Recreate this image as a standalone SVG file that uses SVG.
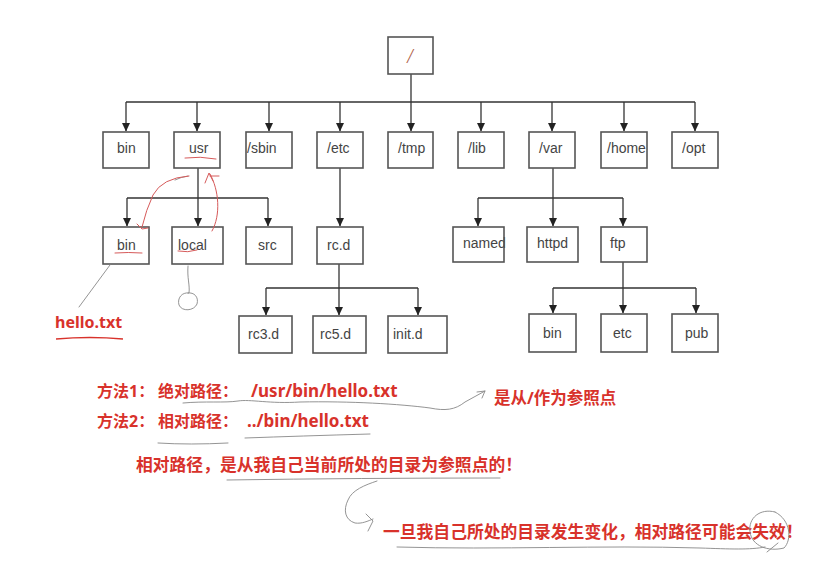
<svg xmlns="http://www.w3.org/2000/svg" width="840" height="561" viewBox="0 0 840 561">
<style>
.box{fill:#fff;stroke:#555;stroke-width:1.6}
.lbl{font-family:"Liberation Sans",Arial,sans-serif;font-size:14px;fill:#444}
.con{fill:none;stroke:#333;stroke-width:1.3}
.red{font-family:"Noto Sans","Noto Sans CJK SC",sans-serif;font-weight:bold;fill:#d8322b}
.pen{fill:none;stroke:#888;stroke-width:0.9;stroke-linecap:round}
.rpen{fill:none;stroke:#d65a5a;stroke-width:1;stroke-linecap:round}
</style>
<defs>
<marker id="ah" markerUnits="userSpaceOnUse" markerWidth="9" markerHeight="9" refX="8" refY="4.5" orient="auto">
<path d="M0,0.5 L8.5,4.5 L0,8.5 z" fill="#222"/>
</marker>
</defs>
<rect width="840" height="561" fill="#fff"/>
<g id="connectors" class="con">
<path d="M411,74 V131" marker-end="url(#ah)"/>
<path d="M126,102 H695"/>
<path d="M126,102 V131" marker-end="url(#ah)"/>
<path d="M197,102 V131" marker-end="url(#ah)"/>
<path d="M269,102 V131" marker-end="url(#ah)"/>
<path d="M340,102 V131" marker-end="url(#ah)"/>
<path d="M481,102 V131" marker-end="url(#ah)"/>
<path d="M552,102 V131" marker-end="url(#ah)"/>
<path d="M624,102 V131" marker-end="url(#ah)"/>
<path d="M695,102 V131" marker-end="url(#ah)"/>
<path d="M198,168 V226" marker-end="url(#ah)"/>
<path d="M127,198 H268"/>
<path d="M127,198 V226" marker-end="url(#ah)"/>
<path d="M268,198 V226" marker-end="url(#ah)"/>
<path d="M340,168 V226" marker-end="url(#ah)"/>
<path d="M339,264 V315" marker-end="url(#ah)"/>
<path d="M266,288 H418"/>
<path d="M266,288 V315" marker-end="url(#ah)"/>
<path d="M418,288 V315" marker-end="url(#ah)"/>
<path d="M553,168 V226" marker-end="url(#ah)"/>
<path d="M478,198 H623"/>
<path d="M478,198 V226" marker-end="url(#ah)"/>
<path d="M623,198 V226" marker-end="url(#ah)"/>
<path d="M623,262 V313" marker-end="url(#ah)"/>
<path d="M553,288 H696"/>
<path d="M553,288 V313" marker-end="url(#ah)"/>
<path d="M696,288 V313" marker-end="url(#ah)"/>
</g>
<g id="root"><rect class="box" x="388" y="37" width="45" height="37"/><text x="410" y="63" text-anchor="middle" font-family="Liberation Serif,serif" font-style="italic" font-size="20" fill="#b06048">/</text></g>
<g id="bin"><rect class="box" x="103" y="132" width="46" height="36"/><text class="lbl" x="117" y="153">bin</text></g>
<g id="usr"><rect class="box" x="174" y="132" width="46" height="36"/><text class="lbl" x="189" y="153">usr</text></g>
<g id="sbin"><rect class="box" x="246" y="132" width="46" height="36"/><text class="lbl" x="247" y="153">/sbin</text></g>
<g id="etc"><rect class="box" x="317" y="132" width="46" height="36"/><text class="lbl" x="327" y="153">/etc</text></g>
<g id="tmp"><rect class="box" x="388" y="132" width="45" height="36"/><text class="lbl" x="398" y="153">/tmp</text></g>
<g id="lib"><rect class="box" x="458" y="132" width="46" height="36"/><text class="lbl" x="468" y="153">/lib</text></g>
<g id="var"><rect class="box" x="529" y="132" width="46" height="36"/><text class="lbl" x="539" y="153">/var</text></g>
<g id="home"><rect class="box" x="601" y="132" width="46" height="36"/><text class="lbl" x="607" y="153">/home</text></g>
<g id="opt"><rect class="box" x="672" y="132" width="46" height="36"/><text class="lbl" x="682" y="153">/opt</text></g>
<g id="usr-bin"><rect class="box" x="103" y="227" width="46" height="37"/><text class="lbl" x="117" y="250">bin</text></g>
<g id="usr-local"><rect class="box" x="172" y="227" width="51" height="37"/><text class="lbl" x="178" y="250">local</text></g>
<g id="usr-src"><rect class="box" x="246" y="227" width="46" height="37"/><text class="lbl" x="258" y="250">src</text></g>
<g id="rc-d"><rect class="box" x="317" y="227" width="46" height="37"/><text class="lbl" x="327" y="250">rc.d</text></g>
<g id="rc3-d"><rect class="box" x="239" y="316" width="53" height="37"/><text class="lbl" x="248" y="339">rc3.d</text></g>
<g id="rc5-d"><rect class="box" x="313" y="316" width="53" height="37"/><text class="lbl" x="320" y="339">rc5.d</text></g>
<g id="init-d"><rect class="box" x="388" y="316" width="59" height="37"/><text class="lbl" x="393" y="339">init.d</text></g>
<g id="named"><text class="lbl" x="463" y="248">named</text><rect class="box" x="453" y="227" width="51" height="35" style="fill:none"/></g>
<g id="httpd"><rect class="box" x="527" y="227" width="51" height="35"/><text class="lbl" x="537" y="248">httpd</text></g>
<g id="ftp"><rect class="box" x="601" y="227" width="46" height="35"/><text class="lbl" x="610" y="248">ftp</text></g>
<g id="ftp-bin"><rect class="box" x="529" y="314" width="47" height="38"/><text class="lbl" x="543" y="338">bin</text></g>
<g id="ftp-etc"><rect class="box" x="601" y="314" width="46" height="38"/><text class="lbl" x="613" y="338">etc</text></g>
<g id="ftp-pub"><rect class="box" x="672" y="314" width="46" height="38"/><text class="lbl" x="685" y="338">pub</text></g>
<g id="annotations">
<path class="rpen" d="M185,158 Q200,156 216,159"/>
<path class="rpen" d="M115,253 Q128,252 142,253"/>
<path class="rpen" d="M178,251 Q188,253 197,250"/>
<path class="pen" d="M175,180 Q181,177 188,176"/>
<path class="rpen" d="M189,176 Q162,178 153,195 Q146,210 142,227 M137,224 L142,229 L148,228"/>
<path class="rpen" d="M212,231 C221,215 219,190 210,174 M205,183 L209,173 L213,181 M210,176 L219,176"/>
<path class="pen" d="M110,265 L79,307"/>
<path class="pen" d="M188,266 C187,278 190,285 189,293 C182,292 177,298 179,305 C182,312 194,311 197,304 C199,297 194,292 188,293"/>
<text class="red" x="55" y="328" font-size="16">hello.txt</text>
<path d="M56,339 Q90,336 123,339" fill="none" stroke="#d8322b" stroke-width="1.5"/>
<text class="red" x="97" y="397" font-size="16">方法1：<tspan x="158">绝对路径：</tspan><tspan x="251" font-size="17">/usr/bin/hello.txt</tspan></text>
<text class="red" x="97" y="427" font-size="16">方法2：<tspan x="158">相对路径：</tspan><tspan x="247" font-size="17">../bin/hello.txt</tspan></text>
<path class="pen" d="M183,403 C205,401 225,403 238,401 C250,399 270,404 300,402 C350,401 400,404 430,408 C445,411 455,410 465,402 L485,391 M477,392 L485,391 L482,398"/>
<path class="pen" d="M158,443 Q190,445 228,443"/>
<path class="pen" d="M245,438 Q300,436 370,434"/>
<text class="red" x="494" y="404" font-size="16.5">是从/作为参照点</text>
<text class="red" x="136" y="471" font-size="16.8">相对路径，是从我自己当前所处的目录为参照点的！</text>
<path class="pen" d="M227,480 Q360,478 500,478"/>
<path class="pen" d="M377,481 C365,485 352,490 348,500 C343,510 345,520 355,523 C362,524 368,521 373,519 M366,514 L373,521 L368,531"/>
<text class="red" x="383" y="538" font-size="16.8">一旦我自己所处的目录发生变化，相对路径可能会失效！</text>
<path class="pen" d="M397,547 C500,550 600,545 700,548 C730,549 750,550 765,547"/>
<path class="pen" d="M775,512 C760,508 748,518 750,532 C752,546 768,552 784,548 C792,540 791,520 775,512 M767,552 L778,543"/>
</g>
</svg>
